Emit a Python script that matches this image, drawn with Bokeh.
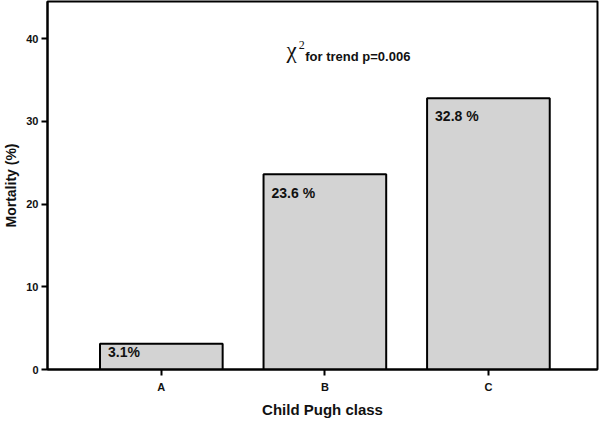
from bokeh.plotting import figure
from bokeh.models import ColumnDataSource, FixedTicker, Label, Range1d
from bokeh.core.properties import value
from bokeh.embed import file_html
from bokeh.resources import INLINE

# ---- data ----
categories = ["A", "B", "C"]
mortality = [3.1, 23.6, 32.8]
bar_labels = ["3.1%", "23.6 %", "32.8 %"]
y_ticks = [0, 10, 20, 30, 40]
annotation_text = "for trend p=0.006"

# ---- style ----
label_dy = [8, 19, 18]
FONT = "Liberation Sans"
BAR_W = 0.75

xs = list(range(len(categories)))
src = ColumnDataSource(dict(
    x=xs,
    top=mortality,
    left=[x - BAR_W / 2 for x in xs],
    label=bar_labels,
    dy=label_dy,
))

p = figure(width=599, height=420, output_backend="svg", toolbar_location=None,
           x_range=Range1d(-0.696, 2.667), y_range=Range1d(0, 44.5),
           min_border_top=1, min_border_right=2, min_border_left=0, min_border_bottom=0)

p.vbar(x="x", top="top", width=BAR_W, bottom=0, source=src,
       fill_color="#d3d3d3", line_color="black", line_width=2)
p.text(x="left", y="top", text="label", source=src, x_offset=8, y_offset="dy",
       text_font=value(FONT), text_font_size="14px", text_font_style="bold",
       text_baseline="middle", text_align="left", text_color="#111111")

# chi-square annotation
p.add_layout(Label(x=0.766, y=38.6, text="χ", text_font="Liberation Serif",
                   text_font_size="23px", text_baseline="alphabetic", text_color="#111111"))
p.add_layout(Label(x=0.84, y=39.3, text="2", text_font="Liberation Serif",
                   text_font_size="12px", text_baseline="alphabetic", text_color="#111111"))
p.add_layout(Label(x=0.88, y=37.9, text=annotation_text, text_font=FONT,
                   text_font_size="13px", text_font_style="bold", text_baseline="alphabetic",
                   text_color="#111111"))

p.grid.visible = False
p.outline_line_color = "black"
p.outline_line_width = 2

p.xaxis.ticker = FixedTicker(ticks=xs)
p.xaxis.major_label_overrides = {i: c for i, c in enumerate(categories)}
p.yaxis.ticker = FixedTicker(ticks=y_ticks)
p.xaxis.axis_label = "Child Pugh class"
p.yaxis.axis_label = "Mortality (%)"

for ax in (p.xaxis, p.yaxis):
    ax.axis_line_width = 2
    ax.axis_line_color = "black"
    ax.major_tick_line_width = 2
    ax.major_tick_line_color = "black"
    ax.major_tick_out = 6
    ax.major_tick_in = 0
    ax.minor_tick_line_color = None
    ax.major_label_text_font = FONT
    ax.major_label_text_font_size = "11px"
    ax.major_label_text_font_style = "bold"
    ax.major_label_text_color = "#111111"
    ax.axis_label_text_font = FONT
    ax.axis_label_text_font_style = "bold"
    ax.axis_label_text_color = "#111111"
    ax.major_label_standoff = 3
    ax.axis_label_standoff = 4

p.xaxis.axis_label_text_font_size = "15px"
p.yaxis.axis_label_text_font_size = "14px"
p.xaxis.major_label_standoff = 5
p.xaxis.axis_label_standoff = 5
p.yaxis.major_label_orientation = "horizontal"

open("out.html", "w").write(file_html(p, INLINE))
